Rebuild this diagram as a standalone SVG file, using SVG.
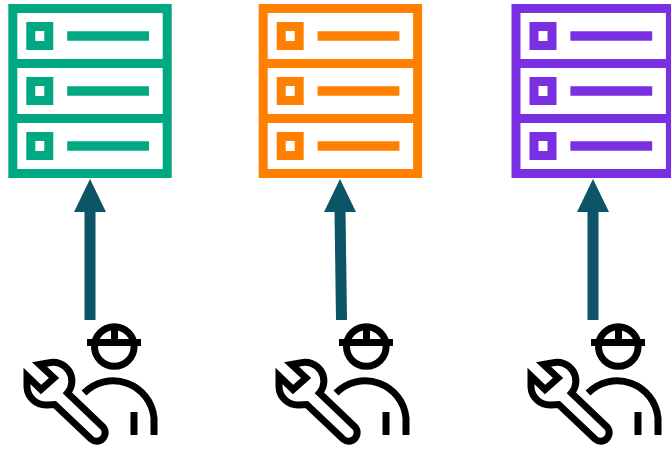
<svg xmlns="http://www.w3.org/2000/svg" width="671" height="449" viewBox="0 0 671 449">
<defs>
<style>
.s{fill:none;stroke-width:9;stroke:currentColor}
.l{stroke-width:9.5;stroke:currentColor;fill:none}
.w{fill:none;stroke:#000;stroke-width:7;stroke-linejoin:miter}
.a{stroke:#0b5566;stroke-width:11;fill:none}
.h{fill:#0b5566}
</style>
<g id="srv">
<rect class="s" x="12.8" y="8.5" width="154.4" height="165"/>
<path class="s" d="M12.8 63.5H167.2M12.8 118.5H167.2"/>
<rect class="s" x="30.8" y="26.5" width="18" height="19"/>
<rect class="s" x="30.8" y="81.5" width="18" height="19"/>
<rect class="s" x="30.8" y="136.5" width="18" height="19"/>
<path class="l" d="M67.2 36H149M67.2 91H149M67.2 146H149"/>
</g>
<g id="wrk">
<circle class="w" cx="114.3" cy="346.5" r="19.8"/>
<path class="w" d="M87 342.5H141M114.5 325V342.5"/>
<path class="w" d="M84 393A41 41 0 0 1 154 418V435M134 412V435"/>
<path class="w" d="M27 376L41 389.5L54 378L39.5 364.5L48 363A18.7 18.7 0 0 1 67.5 393L103 427A8.5 8.5 0 0 1 91 439L54.7 404.5L46.5 405A19 19 0 0 1 27 387Z"/>
</g>
</defs>
<g id="server1" color="#00a982"><use href="#srv"/></g>
<g id="server2" color="#ff8000"><use href="#srv" x="250.4"/></g>
<g id="server3" color="#7b2fe3"><use href="#srv" x="503.2"/></g>
<g id="worker1"><use href="#wrk"/></g>
<g id="worker2"><use href="#wrk" x="252"/></g>
<g id="worker3"><use href="#wrk" x="504"/></g>
<g id="connectors">
<path class="a" d="M90 320V210"/><path class="h" d="M90 179L106 212H74Z"/>
<path class="a" d="M341.5 320L340 210"/><path class="h" d="M340 179L356 212H324Z"/>
<path class="a" d="M593 320V210"/><path class="h" d="M593 179L609 212H577Z"/>
</g>
</svg>
